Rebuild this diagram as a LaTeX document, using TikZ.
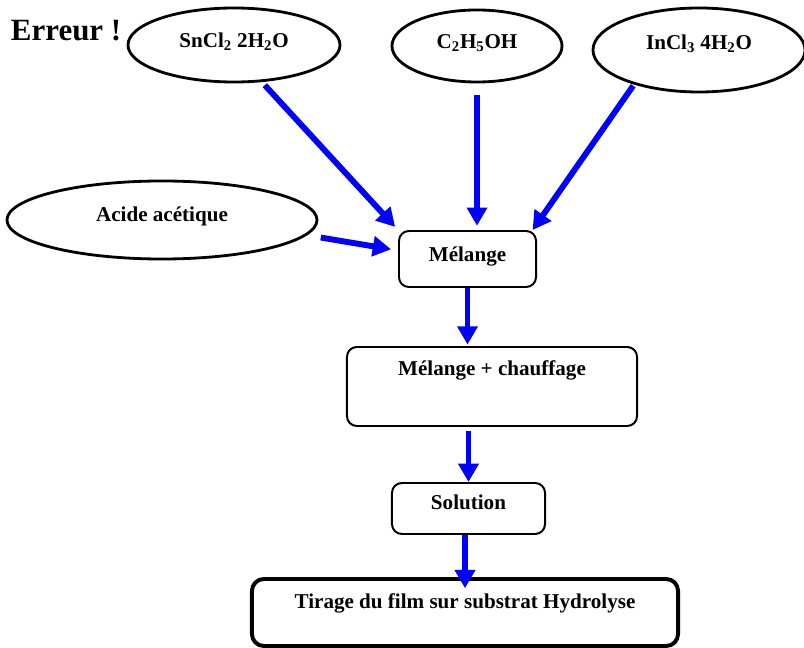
\documentclass[tikz,border=0pt]{standalone}
\usepackage{fontspec}
\setmainfont{Liberation Serif}
\usepackage{tikz}
\usetikzlibrary{shapes.geometric,arrows.meta}
\tikzset{
    reagent/.style={
            draw, ellipse, line width=2pt, inner sep=0pt,
            font=\fontsize{15}{18}\selectfont\bfseries, text height=10pt
        },
    stepbox/.style={
            draw, rectangle, rounded corners=7pt, line width=1.4pt, inner sep=0pt,
            font=\fontsize{15}{18}\selectfont\bfseries, text height=10pt
        },
    flow/.style={
            draw=blue, line width=4.2pt, -{Triangle[length=13pt,width=14pt]}
        },
}

\begin{document}
\begin{tikzpicture}[x=0.025cm, y=-0.025cm]
        \useasboundingbox (0, 0) rectangle (804, 648);
        \node[anchor=base west, font=\fontsize{22}{26}\selectfont\bfseries] (err) at (6, 41) {Erreur !};
        %reagents
        \node[reagent, minimum width=5.3cm, minimum height=1.85cm, text depth=7pt] (sncl) at (234, 45) {SnCl\textsubscript{2} 2H\textsubscript{2}O};
        \node[reagent, minimum width=4.25cm, minimum height=1.8cm, text depth=7pt] (etoh) at (477, 46) {C\textsubscript{2}H\textsubscript{5}OH};
        \node[reagent, minimum width=5.3cm, minimum height=2.1cm, text depth=11pt] (incl) at (699, 50) {InCl\textsubscript{3} 4H\textsubscript{2}O};
        \node[reagent, minimum width=7.75cm, minimum height=1.95cm, text depth=8.5pt] (acide) at (162, 220) {Acide acétique};
        %process steps
        \node[stepbox, minimum width=3.425cm, minimum height=1.4cm, text depth=7pt] (melange) at (467.5, 259) {Mélange};
        \node[stepbox, minimum width=7.25cm, minimum height=1.975cm, text depth=26pt] (chauffe) at (492, 386.5) {Mélange + chauffage};
        \node[stepbox, minimum width=3.825cm, minimum height=1.275cm, text depth=8pt] (solution) at (468.5, 508.5) {Solution};
        \node[stepbox, minimum width=10.65cm, minimum height=1.675cm, text depth=16pt, line width=2.8pt, rounded corners=8.5pt] (tirage) at (465, 612.5) {Tirage du film sur substrat Hydrolyse};
        %arrows into the mixture
        \draw[flow, shorten <=3pt, shorten >=3pt] (sncl.-53) -- (melange.north west);
        \draw[flow, shorten <=8pt, shorten >=3pt] (etoh.south) -- (etoh.south |- melange.north);
        \draw[flow, shorten <=1pt] (incl.208) -- (melange.24);
        \draw[flow, shorten <=10pt, shorten >=5pt] (acide.-6) -- (melange.173);
        %main line
        \draw[flow, shorten >=1pt] (melange.south) -- (melange.south |- chauffe.north);
        \draw[flow, shorten <=3pt] (solution.north |- chauffe.south) -- (solution.north);
        \draw[flow, shorten >=-8pt] (tirage.north |- solution.south) -- (tirage.north);
    \end{tikzpicture}
\end{document}
